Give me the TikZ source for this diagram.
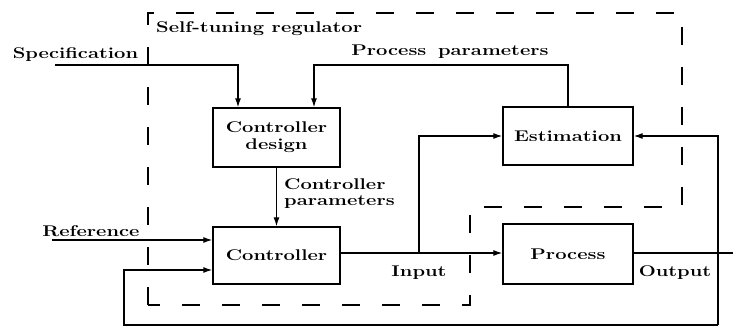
\documentclass[tikz,border=0pt]{standalone}
\usetikzlibrary{arrows.meta}
\newcommand{\wtxt}[1]{\scalebox{1.3}[1]{#1}}
\begin{document}
\begin{tikzpicture}[x=1pt,y=-1pt,
  font=\fontsize{15.5}{17}\selectfont\bfseries,
  blk/.style={draw,line width=1.4pt,inner sep=0pt,align=center},
  sig/.style={line width=1.2pt},
  arr/.style={sig,-{Latex[length=9pt,width=6pt]}},
  lbl/.style={inner sep=0pt},
  bound/.style={line width=1.4pt,dash pattern=on 18pt off 22pt}]
\useasboundingbox (0,0) rectangle (733,331);
% dashed boundary
\draw[bound] (148,305) -- (148,13) -- (682,13) -- (682,207) -- (470,207) -- (470,305) -- cycle;
\node[lbl,anchor=west] (str) at (156,29) {\wtxt{Self-tuning regulator}};
% blocks
\node[blk,minimum width=127pt,minimum height=59pt] (cd) at (276.5,137.5) {\wtxt{\shortstack{Controller\\[3pt]design}}};
\node[blk,minimum width=127pt,minimum height=57pt] (ctrl) at (276.5,255.5) {\wtxt{Controller}};
\node[blk,minimum width=130pt,minimum height=58pt] (est) at (568,136) {\wtxt{Estimation}};
\node[blk,minimum width=130pt,minimum height=60pt] (proc) at (568,254) {\wtxt{Process}};
% labels
\node[lbl] (spec) at (75.5,55) {\wtxt{Specification}};
\node[lbl] (pp) at (450,52) {\wtxt{Process\hspace{9pt}parameters}};
\node[lbl,anchor=west,align=left] (cp) at (284,194) {\wtxt{\shortstack[l]{Controller\\[3pt]parameters}}};
\node[lbl] (ref) at (91,231) {\wtxt{Reference}};
\node[lbl] (inp) at (419,273) {\wtxt{Input}};
\node[lbl] (outl) at (675,273) {\wtxt{Output}};
% coordinates
\coordinate (s0) at (55,65);
\coordinate (r0) at (52,240);
\coordinate (tapI) at (419,253);
\coordinate (tapO) at (718,253);
\coordinate (o1) at (733,253);
\coordinate (fb1) at (718,325);
\coordinate (fb2) at (124,325);
\coordinate (fb3) at (124,270);
% connectors
\draw[arr] (s0) -| (cd.north -| 238,0);
\draw[arr] (est.north) |- (314,65) -- (cd.north -| 314,0);
\draw[arr] (cd.south) -- (ctrl.north);
\draw[arr] (r0) -- (ctrl.west |- r0);
\draw[arr] (ctrl.east |- tapI) -- (proc.west |- tapI);
\draw[arr] (tapI) |- (est.west);
\draw[sig] (proc.east |- tapO) -- (o1);
\draw[arr] (fb1) -- (tapO) |- (est.east);
\draw[arr] (fb1) -- (fb2) -- (fb3) -- (ctrl.west |- fb3);
\end{tikzpicture}
\end{document}
